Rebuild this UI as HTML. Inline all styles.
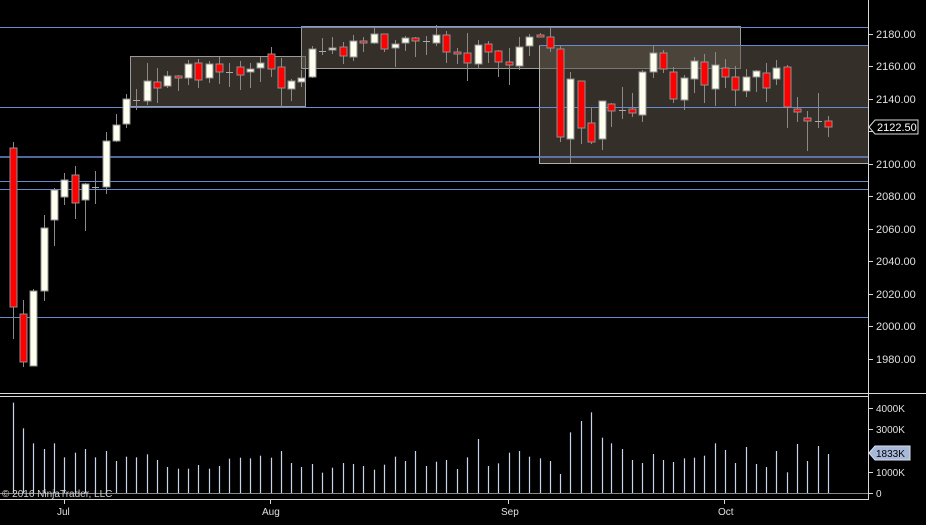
<!DOCTYPE html>
<html><head><meta charset="utf-8"><style>
html,body{margin:0;padding:0;background:#000;}
svg{display:block;font-family:"Liberation Sans",sans-serif;}
</style></head><body>
<svg id="s" width="926" height="525" viewBox="0 0 926 525" xmlns="http://www.w3.org/2000/svg">
<rect width="926" height="525" fill="#000"/>
<rect x="130.5" y="56.5" width="175" height="50" fill="rgba(95,85,72,0.55)" stroke="#9a9a9a" stroke-width="1"/>
<rect x="301.5" y="26.5" width="439" height="42" fill="rgba(95,85,72,0.55)" stroke="#9a9a9a" stroke-width="1"/>
<rect x="539.5" y="45.5" width="329" height="118" fill="rgba(95,85,72,0.55)" stroke="#b0b0b0" stroke-width="1"/>
<g stroke="#6a8ad0" stroke-width="1">
<line x1="0" y1="27.5" x2="868" y2="27.5"/>
<line x1="539" y1="45.5" x2="868" y2="45.5"/>
<line x1="0" y1="107.5" x2="868" y2="107.5"/>
<line x1="0" y1="157" x2="868" y2="157" stroke-width="1.6"/>
<line x1="0" y1="181.5" x2="868" y2="181.5"/>
<line x1="0" y1="189.5" x2="868" y2="189.5"/>
<line x1="0" y1="317.5" x2="868" y2="317.5"/>
</g>
<g id="c"></g>
<g id="v"></g>
<g stroke="#d8d8d8" stroke-width="1">
<line x1="868.5" y1="0" x2="868.5" y2="500"/>
<line x1="0" y1="393.5" x2="926" y2="393.5"/>
<line x1="0" y1="396.5" x2="868" y2="396.5"/>
<line x1="0" y1="499.5" x2="868" y2="499.5"/>
<line x1="0" y1="493.5" x2="868" y2="493.5" stroke="#888"/>
<line x1="868" y1="34.5" x2="873" y2="34.5"/>
<line x1="868" y1="66.5" x2="873" y2="66.5"/>
<line x1="868" y1="99.5" x2="873" y2="99.5"/>
<line x1="868" y1="131.5" x2="873" y2="131.5"/>
<line x1="868" y1="164.5" x2="873" y2="164.5"/>
<line x1="868" y1="196.5" x2="873" y2="196.5"/>
<line x1="868" y1="229.5" x2="873" y2="229.5"/>
<line x1="868" y1="261.5" x2="873" y2="261.5"/>
<line x1="868" y1="294.5" x2="873" y2="294.5"/>
<line x1="868" y1="326.5" x2="873" y2="326.5"/>
<line x1="868" y1="359.5" x2="873" y2="359.5"/>
<line x1="868" y1="408.5" x2="873" y2="408.5"/>
<line x1="868" y1="429.5" x2="873" y2="429.5"/>
<line x1="868" y1="472.5" x2="873" y2="472.5"/>
<line x1="868" y1="493.5" x2="873" y2="493.5"/>
<line x1="64.5" y1="499" x2="64.5" y2="504"/>
<line x1="270.5" y1="499" x2="270.5" y2="504"/>
<line x1="508.5" y1="499" x2="508.5" y2="504"/>
<line x1="724.5" y1="499" x2="724.5" y2="504"/>
</g>
<g fill="#e0e0e0" font-size="11">
<text x="876" y="38">2180.00</text>
<text x="876" y="70">2160.00</text>
<text x="876" y="103">2140.00</text>
<text x="876" y="168">2100.00</text>
<text x="876" y="200">2080.00</text>
<text x="876" y="233">2060.00</text>
<text x="876" y="265">2040.00</text>
<text x="876" y="298">2020.00</text>
<text x="876" y="330">2000.00</text>
<text x="876" y="363">1980.00</text>
<text x="876" y="412" font-size="10">4000K</text>
<text x="876" y="433" font-size="10">3000K</text>
<text x="876" y="476" font-size="10">1000K</text>
<text x="876" y="497" font-size="10">0</text>
<text x="57" y="515" font-size="10">Jul</text>
<text x="262" y="515" font-size="10">Aug</text>
<text x="501" y="515" font-size="10">Sep</text>
<text x="718" y="515" font-size="10">Oct</text>
<text x="2" y="497" font-size="10" fill="#cfcfcf">© 2016 NinjaTrader, LLC</text>
</g>
<path d="M869 127 L875 120 L918 120 L918 134 L875 134 Z" fill="#000" stroke="#ddd"/>
<text x="877" y="131" fill="#fff" font-size="11">2122.50</text>
<path d="M869 453 L875 446 L910 446 L910 460 L875 460 Z" fill="#a8b8d8" stroke="#dde"/>
<text x="876" y="457" fill="#000" font-size="10">1833K</text>
</svg>
<script>
var C=[[12.7,148,307,142,339,'r'],[23,314,362,300,367,'r'],[33,291,366,289,366,'w'],[43.5,228,291,215,301,'w'],[54,190,220,188,246,'w'],[64,180,197,173,205,'w'],[74.5,175,203,166,219,'r'],[85,184,200,183,231,'w'],[95,187,187,171,204,'d'],[105.5,141,187,132,194,'w'],[116,125,141,114,142,'w'],[126,99,124,94,128,'w'],[136,100,100,89,110,'d'],[146.5,81,101,63,105,'w'],[157,82,88,68,103,'r'],[167,76,86,71,88,'w'],[177.5,76,78,75,91,'r'],[188,64,78,60,85,'w'],[198,63,80,59,88,'r'],[208.5,64,78,61,83,'w'],[219,64,72,57,84,'r'],[229,72,72,63,87,'d'],[239.5,67,75,61,90,'r'],[250,69,72,63,88,'w'],[260,63,68,57,82,'w'],[270.5,54,69,47,77,'r'],[281,67,88,58,107,'r'],[291,81,89,79,101,'w'],[301,78,82,70,87,'w'],[311.5,49,77,46,78,'w'],[322,51,51,38,55,'d'],[332,48,50,37,54,'w'],[342.7,47,56,42,64,'r'],[353,41,57,35,61,'w'],[363,41,43,37,52,'r'],[373.7,34,43,27,44,'w'],[384,34,49,34,52,'r'],[394.7,44,48,40,67,'w'],[405,38,43,36,51,'w'],[415,38,41,37,57,'r'],[425.7,41,41,36,55,'d'],[436,35,43,25,46,'w'],[446.3,35,52,31,63,'r'],[456.7,52,54,48,64,'r'],[467,53,63,33,81,'r'],[477.7,45,64,40,69,'w'],[488,44,52,41,63,'r'],[498,51,62,50,77,'r'],[508.7,62,65,48,85,'r'],[519,47,66,37,70,'w'],[529,37,46,34,56,'w'],[539.7,35,37,33,37,'r'],[549.7,37,48,27,52,'r'],[560,49,137,46,142,'r'],[570.3,79,139,72,163,'w'],[580.7,81,128,81,144,'r'],[591,123,142,107,144,'r'],[601.5,101,139,101,150,'w'],[611,104,111,103,127,'r'],[621.7,110,110,87,119,'d'],[632,109,113,93,117,'r'],[642,72,115,70,122,'w'],[652.7,53,72,45,78,'w'],[663,53,69,50,73,'r'],[673,72,99,67,103,'r'],[684,78,100,75,110,'w'],[694,61,79,57,93,'w'],[704,62,85,54,103,'r'],[714.7,65,89,52,106,'w'],[725,68,77,59,88,'r'],[735,77,90,66,106,'r'],[745.7,77,91,69,97,'w'],[755.7,71,77,70,92,'w'],[766,73,88,63,102,'r'],[776,68,79,60,85,'w'],[786.7,67,107,65,128,'r'],[797,109,112,97,122,'r'],[807,118,121,111,151,'r'],[817.7,121,121,93,128,'d'],[828,121,127,116,137,'r']];
var V=[38,115,160,177,160,202,188,177,202,183,213,200,202,193,210,231,236,236,225,236,228,206,203,205,197,203,183,219,231,222,248,233,219,222,228,239,224,200,213,183,228,215,210,237,202,147,228,220,188,183,200,205,213,252,127,93,67,143,160,177,210,219,192,210,216,205,203,197,160,180,219,171,222,231,183,247,162,213,168,192];
var s='',v='';
C.forEach(function(c,i){var x=Math.round(c[0]);
s+='<line x1="'+(x+0.5)+'" y1="'+c[3]+'" x2="'+(x+0.5)+'" y2="'+c[4]+'" stroke="#8a8a8a" stroke-width="1"/>';
if(c[5]=='d'){s+='<line x1="'+(x-3)+'" y1="'+(c[1]+0.5)+'" x2="'+(x+4)+'" y2="'+(c[1]+0.5)+'" stroke="#aaa"/>';}
else{var h=Math.max(c[2]-c[1],2);s+='<rect x="'+(x-3)+'" y="'+c[1]+'" width="7" height="'+h+'" fill="'+(c[5]=='r'?'#ff0000':'#fffff0')+'" stroke="#909090" stroke-width="1"/>';}
var top=390+V[i]/3;v+='<line x1="'+(x+0.5)+'" y1="'+top+'" x2="'+(x+0.5)+'" y2="493" stroke="#c8d4ec" stroke-width="1.2"/>';});
document.getElementById('c').innerHTML=s;document.getElementById('v').innerHTML=v;
</script>
</body></html>
